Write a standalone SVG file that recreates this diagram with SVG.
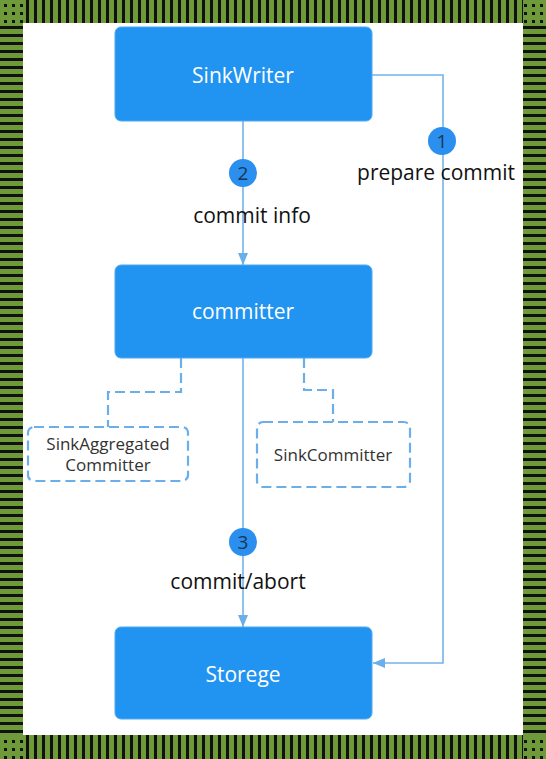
<svg xmlns="http://www.w3.org/2000/svg" width="546" height="759" viewBox="0 0 546 759">
  <defs>
    <pattern id="pv" patternUnits="userSpaceOnUse" width="8" height="8">
      <rect x="2" y="0" width="3" height="8" fill="#111"/>
    </pattern>
    <pattern id="ph" patternUnits="userSpaceOnUse" width="8" height="8">
      <rect x="0" y="2" width="8" height="3" fill="#111"/>
    </pattern>
    <pattern id="pd" patternUnits="userSpaceOnUse" width="8" height="8">
      <rect x="4" y="4" width="3" height="3" fill="#111"/>
    </pattern>
    <marker id="arrow" viewBox="0 0 12 10" refX="12" refY="5" markerWidth="12" markerHeight="10" markerUnits="userSpaceOnUse" orient="auto">
      <path d="M0,0 L12,5 L0,10 Z" fill="#6aaeea"/>
    </marker>
    <style>
      .box { fill: #2194f1; stroke: #4ea9f4; stroke-width: 1; }
      .boxtext { font-family: "Open Sans", "Liberation Sans", sans-serif; font-size: 21px; font-weight: 500; fill: #ffffff; text-anchor: middle; }
      .label { font-family: "Open Sans", "Liberation Sans", sans-serif; font-size: 21px; font-weight: 500; fill: #111111; text-anchor: middle; }
      .dbox { fill: #ffffff; stroke: #6aaeea; stroke-width: 2.2; stroke-dasharray: 10 5; }
      .dtext { font-family: "Open Sans", "Liberation Sans", sans-serif; font-size: 17px; font-weight: 500; fill: #333333; text-anchor: middle; }
      .line { fill: none; stroke: #74b3ec; stroke-width: 1.6; }
      .dline { fill: none; stroke: #6aaeea; stroke-width: 2.2; stroke-dasharray: 10 5; }
      .badge { fill: #2a8fef; }
      .num { font-family: "Open Sans", "Liberation Sans", sans-serif; font-size: 19px; fill: #1b3552; text-anchor: middle; }
    </style>
  </defs>

  <!-- border -->
  <g id="frame">
    <rect x="0" y="0" width="546" height="759" fill="#6f9a3a"/>
    <rect x="23" y="0" width="500" height="23" fill="url(#pv)"/>
    <rect x="23" y="735" width="500" height="24" fill="url(#pv)"/>
    <rect x="0" y="23" width="23" height="712" fill="url(#ph)"/>
    <rect x="523" y="23" width="23" height="712" fill="url(#ph)"/>
    <rect x="0" y="0" width="23" height="23" fill="url(#pd)"/>
    <rect x="523" y="0" width="23" height="23" fill="url(#pd)"/>
    <rect x="0" y="735" width="23" height="24" fill="url(#pd)"/>
    <rect x="523" y="735" width="23" height="24" fill="url(#pd)"/>
    <rect x="23" y="23" width="500" height="712" fill="#ffffff"/>
  </g>

  <!-- connectors -->
  <g id="connectors">
    <path class="line" d="M243,121 V265" marker-end="url(#arrow)"/>
    <path class="line" d="M243,358 V627" marker-end="url(#arrow)"/>
    <path class="line" d="M372,75 H443 V663 H373" marker-end="url(#arrow)"/>
    <path class="dline" d="M181,358 V392 H108 V427"/>
    <path class="dline" d="M304,358 V390 H333 V422"/>
    <circle class="badge" cx="442" cy="141" r="14"/>
    <text class="num" x="442" y="148">1</text>
    <circle class="badge" cx="243" cy="173" r="14"/>
    <text class="num" x="243" y="180">2</text>
    <circle class="badge" cx="243" cy="542" r="14"/>
    <text class="num" x="243" y="549">3</text>
    <text class="label" x="436" y="180">prepare commit</text>
    <text class="label" x="252" y="223">commit info</text>
    <text class="label" x="238" y="589">commit/abort</text>
  </g>

  <g id="sinkwriter">
    <rect class="box" x="115" y="27" width="257" height="94" rx="6"/>
    <text class="boxtext" x="243" y="83">SinkWriter</text>
  </g>

  <g id="committer">
    <rect class="box" x="115" y="265" width="257" height="93" rx="6"/>
    <text class="boxtext" x="243" y="319">committer</text>
  </g>

  <g id="sinkaggregatedcommitter">
    <rect class="dbox" x="28" y="427" width="160" height="54" rx="6"/>
    <text class="dtext" x="108" y="450">SinkAggregated</text>
    <text class="dtext" x="108" y="471">Committer</text>
  </g>

  <g id="sinkcommitter">
    <rect class="dbox" x="257" y="422" width="153" height="65" rx="6"/>
    <text class="dtext" x="333" y="461">SinkCommitter</text>
  </g>

  <g id="storege">
    <rect class="box" x="115" y="627" width="257" height="92" rx="6"/>
    <text class="boxtext" x="243" y="682">Storege</text>
  </g>
</svg>
